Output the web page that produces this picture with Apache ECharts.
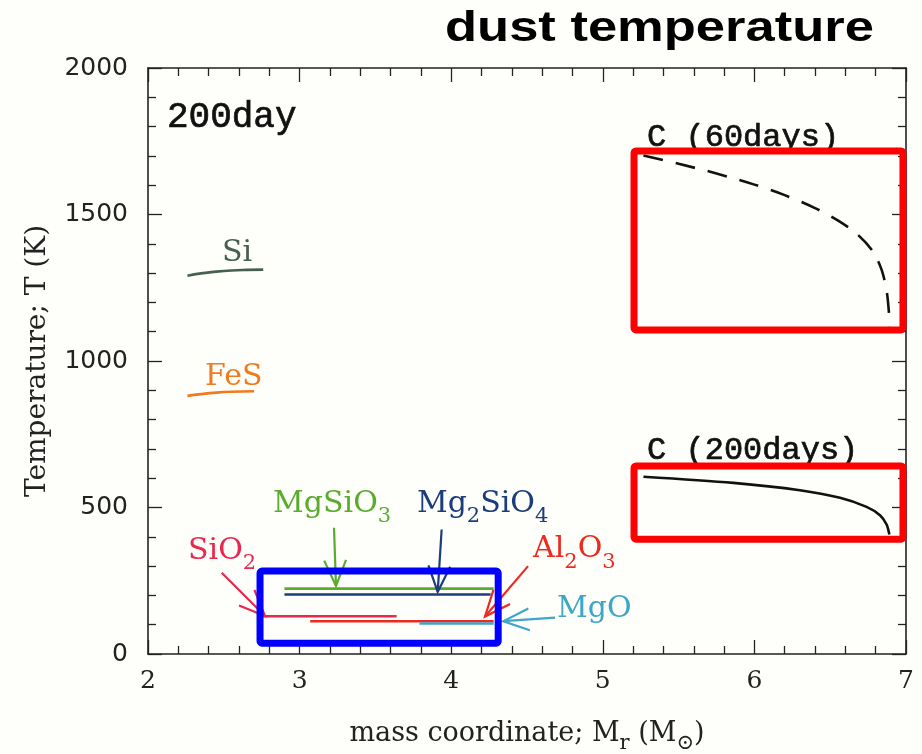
<!DOCTYPE html>
<html><head><meta charset="utf-8">
<script src="https://cdn.jsdelivr.net/npm/echarts@6/dist/echarts.min.js"></script>
<style>html,body{margin:0;padding:0;background:#fefefa}#c{width:922px;height:754px}</style>
</head><body><div id="c"></div>
<script>
// ---- data ----
const siX = [2.26, 2.35, 2.45, 2.55, 2.65, 2.76];
const siY = [1291, 1299, 1305, 1309, 1311, 1312];
const fesX = [2.26, 2.35, 2.45, 2.55, 2.70];
const fesY = [881, 887, 892, 895, 897];
const mgsio3X = [2.90, 4.28];
const mgsio3Y = [223, 223];
const mg2sio4X = [2.90, 4.26];
const mg2sio4Y = [203, 203];
const sio2X = [2.75, 3.64];
const sio2Y = [129, 129];
const al2o3X = [3.07, 4.28];
const al2o3Y = [112, 112];
const mgoX = [3.79, 4.28];
const mgoY = [104, 104];
const c60X = [5.268, 5.50, 5.75, 6.00, 6.20, 6.40, 6.55, 6.68, 6.78, 6.84, 6.875, 6.894];
const c60Y = [1701, 1673, 1640, 1602, 1566, 1522, 1480, 1432, 1375, 1310, 1230, 1119];
const c200X = [5.268, 5.861, 6.300, 6.565, 6.740, 6.830, 6.872, 6.890];
const c200Y = [605, 584, 559, 533, 502, 473, 442, 408];
const xTicks = [2, 3, 4, 5, 6, 7];
const yTicks = [0, 500, 1000, 1500, 2000];

// annotation arrows: [xFrom, yFrom, xTo, yTo]
const arrowPts = [
  [3.227, 431, 3.240, 232],
  [3.937, 425, 3.911, 212],
  [2.486, 277, 2.772, 130],
  [4.507, 300, 4.223, 128],
  [4.685, 124, 4.344, 112]
];
// highlight boxes: [x0, y0, x1, y1]
const redBoxes = [[5.206, 1717, 6.980, 1106], [5.206, 642, 6.980, 392]];
const blueBoxes = [[2.739, 283, 4.310, 37]];

// labels anchored at data coords (left edge, middle of main text)
const labelTexts = ['{m|Si}', '{m|FeS}', '{m|MgSiO}{s|3}', '{m|Mg}{s|2}{m|SiO}{s|4}', '{m|SiO}{s|2}', '{m|Al}{s|2}{m|O}{s|3}', '{m|MgO}'];
const labelPos = [[2.488, 1367], [2.376, 945], [2.825, 512], [3.774, 512], [2.264, 352], [4.540, 356], [4.698, 154]];
const labelCol = ['#46604e', '#f07a1e', '#5aab2e', '#1c3c7c', '#e8284c', '#ee2a1e', '#3ea6c8'];
const noteTexts = ['200day', 'C (60days)', 'C (200days)'];
const notePos = [[2.125, 1830], [5.292, 1762], [5.292, 694]];
const noteSize = [36, 32, 32];

const COL = {si:'#46604e', fes:'#f07a1e', mgsio3:'#5aab2e', mg2sio4:'#1c3c7c', sio2:'#e8284c', al2o3:'#ee2a1e', mgo:'#3ea6c8'};
const arrowCol = [COL.mgsio3, COL.mg2sio4, COL.sio2, COL.al2o3, COL.mgo];

const zip = (xs, ys) => xs.map((x, i) => [x, ys[i]]);
const SERIF = '"DejaVu Serif", serif';
const MONO = '"Liberation Mono", monospace';

function lineSeries(xs, ys, color, extra) {
  return Object.assign({
    type: 'line', data: zip(xs, ys), showSymbol: false, symbol: 'none',
    lineStyle: {color: color, width: 2.6}, silent: true, z: 3, animation: false
  }, extra || {});
}

const axisCommon = {
  type: 'value',
  axisLine: {show: true, onZero: false, lineStyle: {color: '#222', width: 1.6}},
  axisTick: {show: true, inside: true, length: 14, lineStyle: {color: '#222', width: 1.3}},
  minorTick: {show: true, splitNumber: 5, length: 8, lineStyle: {color: '#222', width: 1.3}},
  splitLine: {show: false}, minorSplitLine: {show: false}
};

const chart = echarts.init(document.getElementById('c'), null, {renderer: 'canvas'});
chart.setOption({
  backgroundColor: '#fefefa',
  animation: false,
  grid: {left: 148, right: 16, top: 68, bottom: 100, containLabel: false, outerBoundsMode: 'none'},
  xAxis: [
    Object.assign({}, axisCommon, {
      min: xTicks[0], max: xTicks[xTicks.length - 1], interval: 1, position: 'bottom',
      axisLabel: {show: true, margin: 15, fontFamily: SERIF, fontSize: 25, color: '#222', showMinLabel: true, showMaxLabel: true,
        formatter: v => String(v)},
      name: '{m|mass coordinate; M}{s|r}{m| (M}{s|⊙}{m|)}',
      nameLocation: 'middle', nameGap: 65,
      nameTextStyle: {
        color: '#222',
        rich: {
          m: {fontFamily: SERIF, fontSize: 27, color: '#222', lineHeight: 30},
          s: {fontFamily: SERIF, fontSize: 21, color: '#222', lineHeight: 30, padding: [20, 0, 0, 0]}
        }
      }
    }),
    Object.assign({}, axisCommon, {
      min: xTicks[0], max: xTicks[xTicks.length - 1], interval: 1, position: 'top',
      axisLabel: {show: false}
    })
  ],
  yAxis: [
    Object.assign({}, axisCommon, {
      min: yTicks[0], max: yTicks[yTicks.length - 1], interval: 500, position: 'left',
      axisLabel: {show: true, margin: 20, fontFamily: '"DejaVu Sans", sans-serif', fontSize: 25, color: '#222', showMinLabel: true, showMaxLabel: true,
        formatter: v => String(v)},
      name: 'Temperature; T (K)', nameLocation: 'middle', nameGap: 96, nameRotate: 90,
      nameTextStyle: {fontFamily: SERIF, fontSize: 28, color: '#222'}
    }),
    Object.assign({}, axisCommon, {
      min: yTicks[0], max: yTicks[yTicks.length - 1], interval: 500, position: 'right',
      axisLabel: {show: false}
    })
  ],
  graphic: [{
    type: 'text', x: 445, y: 29, scaleX: 1.25, z: 10,
    style: {text: 'dust temperature', font: 'bold 42px "Liberation Sans", Arial, sans-serif', fill: '#000', align: 'left', verticalAlign: 'middle'}
  }],
  series: [
    lineSeries(siX, siY, COL.si, {smooth: true}),
    lineSeries(fesX, fesY, COL.fes, {smooth: true}),
    lineSeries(mgsio3X, mgsio3Y, COL.mgsio3),
    lineSeries(mg2sio4X, mg2sio4Y, COL.mg2sio4),
    lineSeries(sio2X, sio2Y, COL.sio2),
    lineSeries(al2o3X, al2o3Y, COL.al2o3),
    lineSeries(mgoX, mgoY, COL.mgo),
    lineSeries(c60X, c60Y, '#111', {smooth: 0.3, lineStyle: {color: '#111', width: 2.6, type: [20, 13]}}),
    lineSeries(c200X, c200Y, '#111', {smooth: 0.3, lineStyle: {color: '#111', width: 2.6}}),
    {
      type: 'custom', name: 'arrows', data: arrowPts, silent: true, z: 4, animation: false,
      renderItem: function (params, api) {
        const p0 = api.coord([api.value(0), api.value(1)]);
        const p1 = api.coord([api.value(2), api.value(3)]);
        const ang = Math.atan2(p1[1] - p0[1], p1[0] - p0[0]);
        const L = 28, a = 0.40;
        const h1 = [p1[0] - L * Math.cos(ang - a), p1[1] - L * Math.sin(ang - a)];
        const h2 = [p1[0] - L * Math.cos(ang + a), p1[1] - L * Math.sin(ang + a)];
        const c = arrowCol[params.dataIndex];
        return {type: 'group', children: [
          {type: 'line', shape: {x1: p0[0], y1: p0[1], x2: p1[0], y2: p1[1]}, style: {stroke: c, lineWidth: 2.2}},
          {type: 'polyline', shape: {points: [h1, p1, h2]}, style: {stroke: c, lineWidth: 2.2, fill: null}}
        ]};
      }
    },
    {
      type: 'custom', name: 'labels', data: labelPos, silent: true, z: 5, animation: false,
      renderItem: function (params, api) {
        const p = api.coord([api.value(0), api.value(1)]);
        const c = labelCol[params.dataIndex];
        return {type: 'text', x: p[0], y: p[1], style: {
          text: labelTexts[params.dataIndex], align: 'left', verticalAlign: 'middle',
          rich: {
            m: {fontFamily: SERIF, fontSize: 30, fill: c, color: c, lineHeight: 40},
            s: {fontFamily: SERIF, fontSize: 21, fill: c, color: c, lineHeight: 40, padding: [26, 0, 0, 0]}
          }
        }};
      }
    },
    {
      type: 'custom', name: 'notes', data: notePos, silent: true, z: 5, animation: false,
      renderItem: function (params, api) {
        const p = api.coord([api.value(0), api.value(1)]);
        return {type: 'text', x: p[0], y: p[1], style: {
          text: noteTexts[params.dataIndex], align: 'left', verticalAlign: 'middle',
          font: noteSize[params.dataIndex] + 'px ' + MONO, fill: '#111', stroke: '#111', lineWidth: 0.7
        }};
      }
    },
    {
      type: 'custom', name: 'boxes', data: redBoxes.concat(blueBoxes), silent: true, z: 8, clip: false, animation: false,
      renderItem: function (params, api) {
        const a = api.coord([api.value(0), api.value(1)]);
        const b = api.coord([api.value(2), api.value(3)]);
        const c = params.dataIndex < redBoxes.length ? '#ff0000' : '#0000ff';
        return {type: 'rect', shape: {x: Math.min(a[0], b[0]), y: Math.min(a[1], b[1]), width: Math.abs(b[0] - a[0]), height: Math.abs(b[1] - a[1]), r: 2},
          style: {stroke: c, lineWidth: 7, fill: null, lineJoin: 'round'}};
      }
    }
  ]
});
</script>
</body></html>
